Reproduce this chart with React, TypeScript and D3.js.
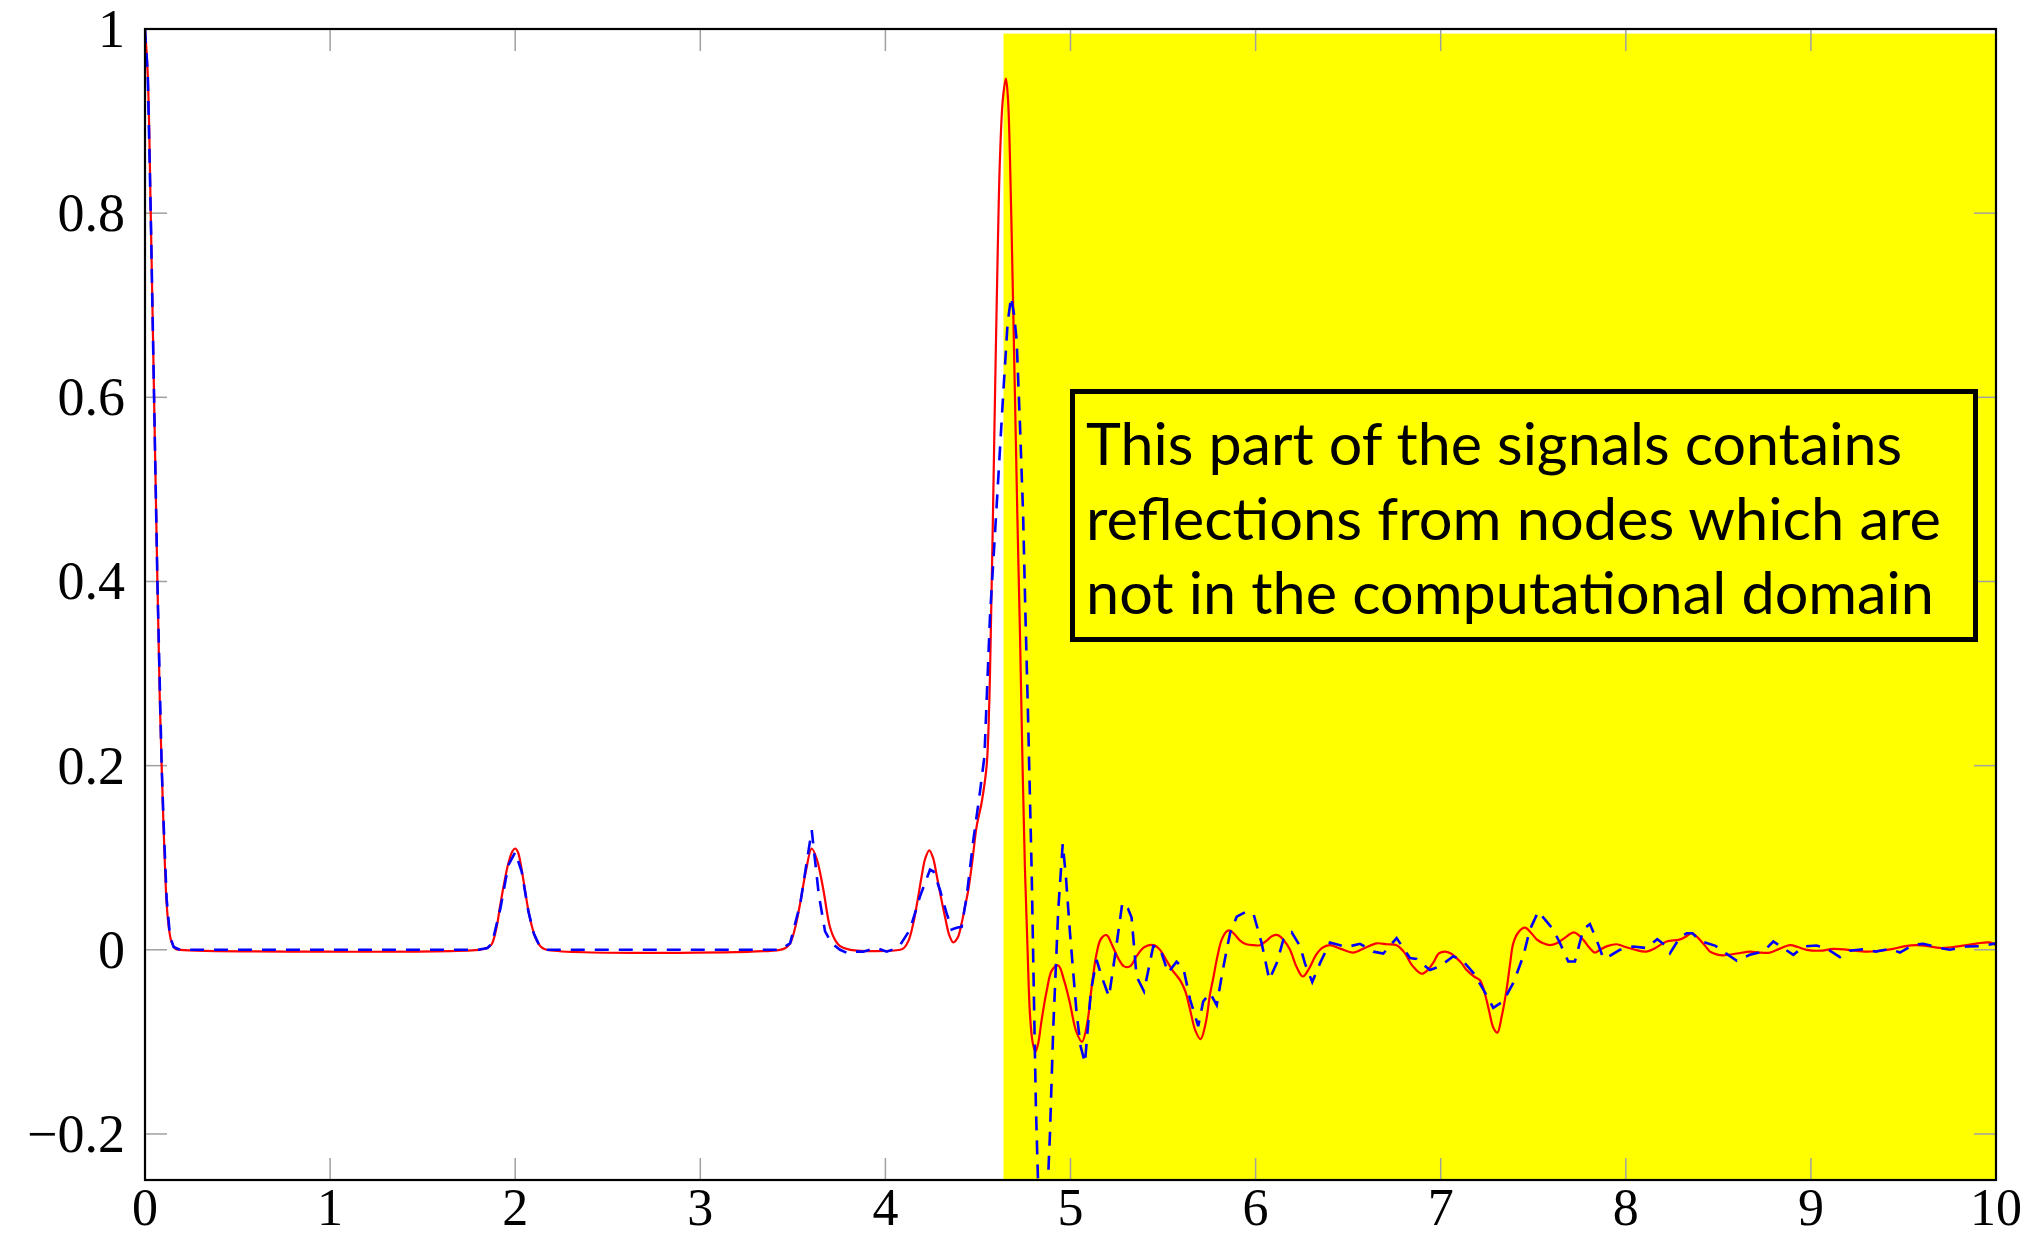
import React from "react";
import * as d3 from "d3";

const redX = [0, 0.015, 0.031, 0.049, 0.067, 0.08, 0.09, 0.099, 0.108, 0.117, 0.13, 0.144, 0.165, 0.19,
  1.80, 1.85, 1.873, 1.90, 1.918, 1.94, 1.963, 1.985, 2.0, 2.015, 2.035, 2.055, 2.071, 2.095, 2.116, 2.14, 2.17,
  3.43, 3.46, 3.485, 3.51, 3.539, 3.57, 3.602, 3.63, 3.665, 3.70, 3.73, 3.755, 3.81,
  4.08, 4.10, 4.125, 4.151, 4.175, 4.196, 4.215, 4.237, 4.257, 4.277, 4.30, 4.322, 4.345, 4.367, 4.39, 4.412, 4.43, 4.448, 4.47, 4.493, 4.52, 4.547,
  4.56, 4.569, 4.58, 4.592, 4.605, 4.619, 4.635, 4.651, 4.662, 4.673, 4.687, 4.70, 4.713, 4.727, 4.74, 4.754, 4.768, 4.781, 4.795, 4.81, 4.825, 4.845, 4.871, 4.90, 4.934, 4.965, 4.997,
  5.03, 5.062, 5.09, 5.114, 5.14, 5.165, 5.195, 5.225, 5.26, 5.29, 5.321, 5.36, 5.40, 5.45, 5.483, 5.52, 5.55, 5.592, 5.62, 5.646, 5.675, 5.703, 5.73, 5.754, 5.772, 5.795, 5.817, 5.844, 5.862, 5.89, 5.916, 5.95, 5.99,
  6.024, 6.06, 6.09, 6.12, 6.15, 6.186, 6.22, 6.255, 6.29, 6.325, 6.36, 6.40, 6.46, 6.528, 6.59, 6.654, 6.71, 6.762, 6.80, 6.85, 6.897, 6.93, 6.96, 6.99,
  7.023, 7.055, 7.086, 7.115, 7.14, 7.18, 7.212, 7.235, 7.26, 7.285, 7.306, 7.33, 7.356, 7.375, 7.392, 7.42, 7.455, 7.49, 7.52, 7.554, 7.59, 7.627, 7.67, 7.72, 7.75, 7.77, 7.80, 7.833, 7.86, 7.90, 7.95,
  8.0, 8.05, 8.11, 8.16, 8.22, 8.29, 8.33, 8.356, 8.38, 8.40, 8.43, 8.455, 8.49, 8.527, 8.6, 8.671, 8.72, 8.779, 8.83, 8.887, 8.93, 8.977,
  9.05, 9.121, 9.2, 9.301, 9.37, 9.445, 9.51, 9.571, 9.63, 9.697, 9.77, 9.841, 9.9, 9.965, 10];
const redY = [1.0, 0.95, 0.80, 0.60, 0.40, 0.27, 0.20, 0.141, 0.09, 0.05, 0.022, 0.008, 0.001, 0,
  0, 0.002, 0.006, 0.025, 0.047, 0.072, 0.094, 0.107, 0.110, 0.106, 0.087, 0.062, 0.043, 0.022, 0.010, 0.003, 0,
  0, 0.002, 0.007, 0.022, 0.050, 0.085, 0.110, 0.098, 0.065, 0.025, 0.010, 0.004, 0,
  0, 0.002, 0.010, 0.029, 0.055, 0.080, 0.099, 0.108, 0.100, 0.081, 0.057, 0.036, 0.016, 0.008, 0.013, 0.029, 0.047, 0.065, 0.097, 0.134, 0.16, 0.20,
  0.26, 0.34, 0.46, 0.60, 0.74, 0.86, 0.925, 0.946, 0.925, 0.86, 0.73, 0.60, 0.47, 0.344, 0.21, 0.087, 0.0, -0.07, -0.10, -0.111, -0.102, -0.075, -0.045, -0.022, -0.017, -0.033, -0.058,
  -0.088, -0.100, -0.080, -0.041, -0.005, 0.012, 0.016, 0.005, -0.010, -0.018, -0.018, -0.006, 0.003, 0.005, 0.0, -0.012, -0.022, -0.033, -0.045, -0.065, -0.088, -0.097, -0.08, -0.048, -0.030, -0.006, 0.011, 0.020, 0.021, 0.016, 0.010, 0.006, 0.005,
  0.005, 0.010, 0.015, 0.016, 0.011, 0.0, -0.018, -0.029, -0.02, -0.006, 0.002, 0.005, 0.001, -0.003, 0.002, 0.007, 0.006, 0.005, -0.002, -0.018, -0.026, -0.022, -0.014, -0.004,
  -0.002, -0.004, -0.009, -0.015, -0.022, -0.029, -0.033, -0.045, -0.065, -0.085, -0.090, -0.072, -0.043, -0.015, 0.007, 0.019, 0.024, 0.018, 0.011, 0.007, 0.005, 0.007, 0.013, 0.019, 0.015, 0.011, 0.003, -0.003, 0.0, 0.004, 0.006,
  0.003, 0.0, -0.002, 0.002, 0.009, 0.011, 0.015, 0.018, 0.015, 0.011, 0.004, -0.002, -0.005, -0.006, -0.004, -0.002, -0.003, -0.003, 0.001, 0.005, 0.003, 0.0,
  -0.001, 0.001, 0.0, -0.002, -0.001, 0.001, 0.004, 0.005, 0.004, 0.002, 0.003, 0.005, 0.007, 0.008, 0.005];

const blueX = [0, 0.015, 0.031, 0.049, 0.067, 0.09, 0.10, 0.117, 0.135, 0.155, 0.19,
  1.80, 1.85, 1.875, 1.92, 1.963, 2.0, 2.035, 2.071, 2.10, 2.13, 2.17,
  3.43, 3.485, 3.54, 3.602, 3.64, 3.674, 3.71, 3.755, 3.80, 3.84, 3.88, 3.953, 4.007, 4.05, 4.079, 4.133, 4.187, 4.241, 4.26, 4.295, 4.33, 4.349, 4.358, 4.385, 4.412, 4.439, 4.475, 4.51, 4.535,
  4.565, 4.601, 4.636, 4.66, 4.679, 4.695, 4.709, 4.727, 4.744, 4.757, 4.770, 4.79, 4.813, 4.83, 4.85, 4.87, 4.889, 4.907, 4.934, 4.958, 4.975, 4.997,
  5.033, 5.055, 5.078, 5.11, 5.141, 5.17, 5.208, 5.245, 5.28, 5.31, 5.33, 5.357, 5.397, 5.447, 5.483, 5.527, 5.573, 5.61, 5.646, 5.69, 5.717, 5.754, 5.79, 5.82, 5.844, 5.862, 5.898, 5.951, 5.99,
  6.033, 6.074, 6.114, 6.15, 6.195, 6.24, 6.267, 6.306, 6.348, 6.402, 6.492, 6.564, 6.636, 6.69, 6.762, 6.834, 6.87, 6.942, 6.996,
  7.068, 7.12, 7.176, 7.23, 7.284, 7.338, 7.392, 7.446, 7.482, 7.527, 7.608, 7.645, 7.689, 7.725, 7.77, 7.806, 7.842, 7.878, 7.895, 7.968,
  8.04, 8.11, 8.17, 8.22, 8.239, 8.29, 8.329, 8.36, 8.4, 8.485, 8.539, 8.6, 8.67, 8.743, 8.797, 8.851, 8.905, 8.96,
  9.03, 9.08, 9.157, 9.21, 9.283, 9.35, 9.427, 9.481, 9.553, 9.607, 9.697, 9.751, 9.841, 9.92, 10];
const blueY = [1.0, 0.95, 0.80, 0.60, 0.40, 0.20, 0.14, 0.055, 0.015, 0.003, 0,
  0, 0.002, 0.007, 0.045, 0.092, 0.106, 0.085, 0.042, 0.018, 0.005, 0,
  0, 0.007, 0.05, 0.130, 0.06, 0.020, 0.007, 0.0, -0.004, -0.002, -0.002, 0.002, -0.002, 0.001, 0.005, 0.022, 0.058, 0.087, 0.085, 0.065, 0.040, 0.029, 0.022, 0.024, 0.025, 0.058, 0.119, 0.17, 0.21,
  0.362, 0.482, 0.602, 0.68, 0.709, 0.69, 0.662, 0.57, 0.473, 0.36, 0.259, 0.087, -0.17, -0.29, -0.34, -0.29, -0.20, -0.084, 0.044, 0.115, 0.08, 0.019,
  -0.069, -0.105, -0.123, -0.045, -0.011, -0.03, -0.051, 0.0, 0.051, 0.045, 0.035, -0.029, -0.045, 0.004, 0.002, -0.025, -0.013, -0.02, -0.054, -0.083, -0.056, -0.047, -0.060, -0.025, 0.0, 0.018, 0.036, 0.0415, 0.038,
  0.007, -0.0325, -0.0145, 0.011, 0.019, 0.004, -0.015, -0.035, -0.0145, 0.008, 0.003, 0.0065, -0.002, -0.004, 0.0127, -0.009, -0.010, -0.022, -0.018,
  -0.007, -0.012, -0.025, -0.043, -0.063, -0.056, -0.036, -0.007, 0.022, 0.0415, 0.022, 0.007, -0.0127, -0.0127, 0.022, 0.028, 0.011, -0.009, -0.009, 0.0,
  0.0036, 0.002, 0.0116, 0.0036, -0.0036, 0.0127, 0.018, 0.018, 0.0098, 0.0043, -0.0036, -0.012, -0.0054, -0.0018, 0.009, 0.0018, -0.0054, 0.0036,
  0.0047, 0.002, -0.008, -0.001, 0.0007, -0.002, 0.001, -0.003, 0.0054, 0.0065, 0.002, 0.0, 0.0036, 0.004, 0.007];

const xTicks = [0, 1, 2, 3, 4, 5, 6, 7, 8, 9, 10];
const yTicks = [-0.2, 0, 0.2, 0.4, 0.6, 0.8, 1];
const yTickLabels = ["\u22120.2", "0", "0.2", "0.4", "0.6", "0.8", "1"];

const shadeRange = [4.638, 10];
const shadeTop = 0.995;

const noteLines = [
  "This part of the signals contains",
  "reflections from nodes which are",
  "not in the computational domain",
];

const W = 2039;
const H = 1239;
const L = 145, R = 1996, T = 29, B = 1180;

export default function App() {
  const x = d3.scaleLinear().domain([0, 10]).range([L, R]);
  const y = d3.scaleLinear().domain([-0.25, 1]).range([B, T]);

  const red = redX.map((v, i) => [v, redY[i]] as [number, number]);
  const blue = blueX.map((v, i) => [v, blueY[i]] as [number, number]);

  const redLine = d3.line<[number, number]>().x(d => x(d[0])).y(d => y(d[1])).curve(d3.curveCatmullRom.alpha(0.5));
  const blueLine = d3.line<[number, number]>().x(d => x(d[0])).y(d => y(d[1])).curve(d3.curveLinear);

  const tickLen = 22;
  const tickColor = "#a0a0a0";
  const serif = "'Liberation Serif', 'Times New Roman', serif";

  const noteWidths = [816, 855, 848];
  const noteBase = [465, 540, 614];

  return (
    <svg width={W} height={H} style={{ position: "fixed", left: 0, top: 0, display: "block", background: "#fff" }}>
      <defs>
        <clipPath id="plotClip">
          <rect x={L} y={T} width={R - L} height={B - T} />
        </clipPath>
      </defs>
      <rect
        x={x(shadeRange[0])}
        y={y(shadeTop)}
        width={x(shadeRange[1]) - x(shadeRange[0])}
        height={y(-0.25) - y(shadeTop)}
        fill="#ffff00"
      />
      {xTicks.map(t => (
        <g key={"xt" + t}>
          <line x1={x(t)} x2={x(t)} y1={B} y2={B - tickLen} stroke={tickColor} strokeWidth={1.5} />
          <line x1={x(t)} x2={x(t)} y1={T} y2={T + tickLen} stroke={tickColor} strokeWidth={1.5} />
        </g>
      ))}
      {yTicks.map(t => (
        <g key={"yt" + t}>
          <line x1={L} x2={L + tickLen} y1={y(t)} y2={y(t)} stroke={tickColor} strokeWidth={1.5} />
          <line x1={R} x2={R - tickLen} y1={y(t)} y2={y(t)} stroke={tickColor} strokeWidth={1.5} />
        </g>
      ))}
      <g clipPath="url(#plotClip)">
        <path d={redLine(red) || ""} fill="none" stroke="#ff0000" strokeWidth={2.2} />
        <path d={blueLine(blue) || ""} fill="none" stroke="#0000ff" strokeWidth={2.6} strokeDasharray="14 10" />
      </g>
      <rect x={1072.5} y={391.5} width={903} height={248} fill="none" stroke="#000" strokeWidth={5} />
      {noteLines.map((s, i) => (
        <text
          key={"n" + i}
          x={1086}
          y={noteBase[i]}
          fontFamily="Lato, 'Open Sans', sans-serif"
          fontSize={59}
          textLength={noteWidths[i]}
          lengthAdjust="spacingAndGlyphs"
          fill="#000"
        >
          {s}
        </text>
      ))}
      <rect x={L} y={T} width={R - L} height={B - T} fill="none" stroke="#000" strokeWidth={2.2} />
      {xTicks.map(t => (
        <text key={"xl" + t} x={x(t)} y={1225} textAnchor="middle" fontFamily={serif} fontSize={52} fill="#000">
          {String(t)}
        </text>
      ))}
      {yTicks.map((t, i) => (
        <text key={"yl" + t} x={125} y={y(t) + 18} textAnchor="end" fontFamily={serif} fontSize={54} fill="#000">
          {yTickLabels[i]}
        </text>
      ))}
    </svg>
  );
}
